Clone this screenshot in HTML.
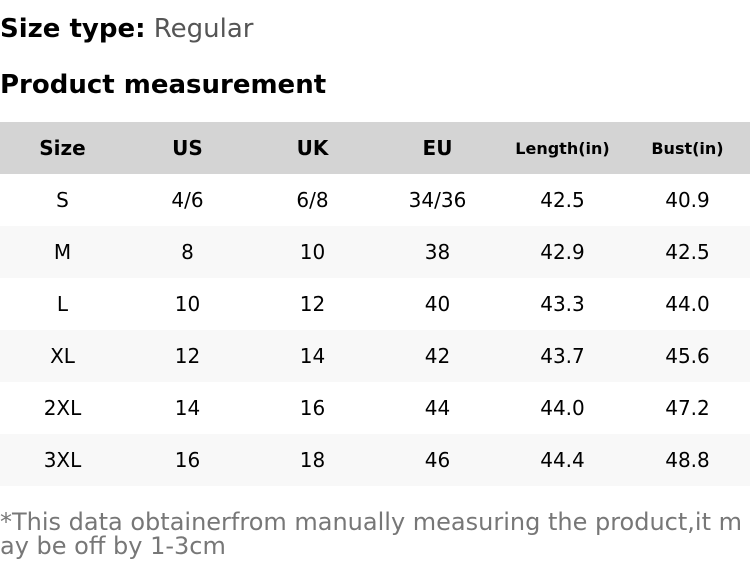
<!DOCTYPE html>
<html><head><meta charset="utf-8"><style>
body{margin:0;width:750px;height:582px;background:#fff;font-family:"DejaVu Sans","Liberation Sans",sans-serif;overflow:hidden}
.t1{position:absolute;left:0;top:13px;font-size:26px;line-height:32px;color:#000}
.t1 b{font-weight:bold}.t1 span{color:#555}
.t2{position:absolute;left:0;top:69px;font-size:26px;line-height:32px;font-weight:bold;color:#000}
table{position:absolute;left:0;top:122px;width:750px;border-collapse:collapse;table-layout:fixed}
td,th{height:52px;padding:0;text-align:center;font-size:20px;color:#000}
th{background:#d4d4d4;font-weight:bold}
th.s{font-size:16px}
tr:nth-child(odd) td{background:#f8f8f8}
.n{position:absolute;left:0;top:510px;width:750px;font-size:24px;line-height:24px;color:#777;word-break:break-all}
</style></head><body>
<div class="t1"><b>Size type:</b> <span>Regular</span></div>
<div class="t2">Product measurement</div>
<table>
<tr><th>Size</th><th>US</th><th>UK</th><th>EU</th><th class="s">Length(in)</th><th class="s">Bust(in)</th></tr>
<tr><td>S</td><td>4/6</td><td>6/8</td><td>34/36</td><td>42.5</td><td>40.9</td></tr>
<tr><td>M</td><td>8</td><td>10</td><td>38</td><td>42.9</td><td>42.5</td></tr>
<tr><td>L</td><td>10</td><td>12</td><td>40</td><td>43.3</td><td>44.0</td></tr>
<tr><td>XL</td><td>12</td><td>14</td><td>42</td><td>43.7</td><td>45.6</td></tr>
<tr><td>2XL</td><td>14</td><td>16</td><td>44</td><td>44.0</td><td>47.2</td></tr>
<tr><td>3XL</td><td>16</td><td>18</td><td>46</td><td>44.4</td><td>48.8</td></tr>
</table>
<div class="n">*This data obtainerfrom manually measuring the product,it may be off by 1-3cm</div>
</body></html>
